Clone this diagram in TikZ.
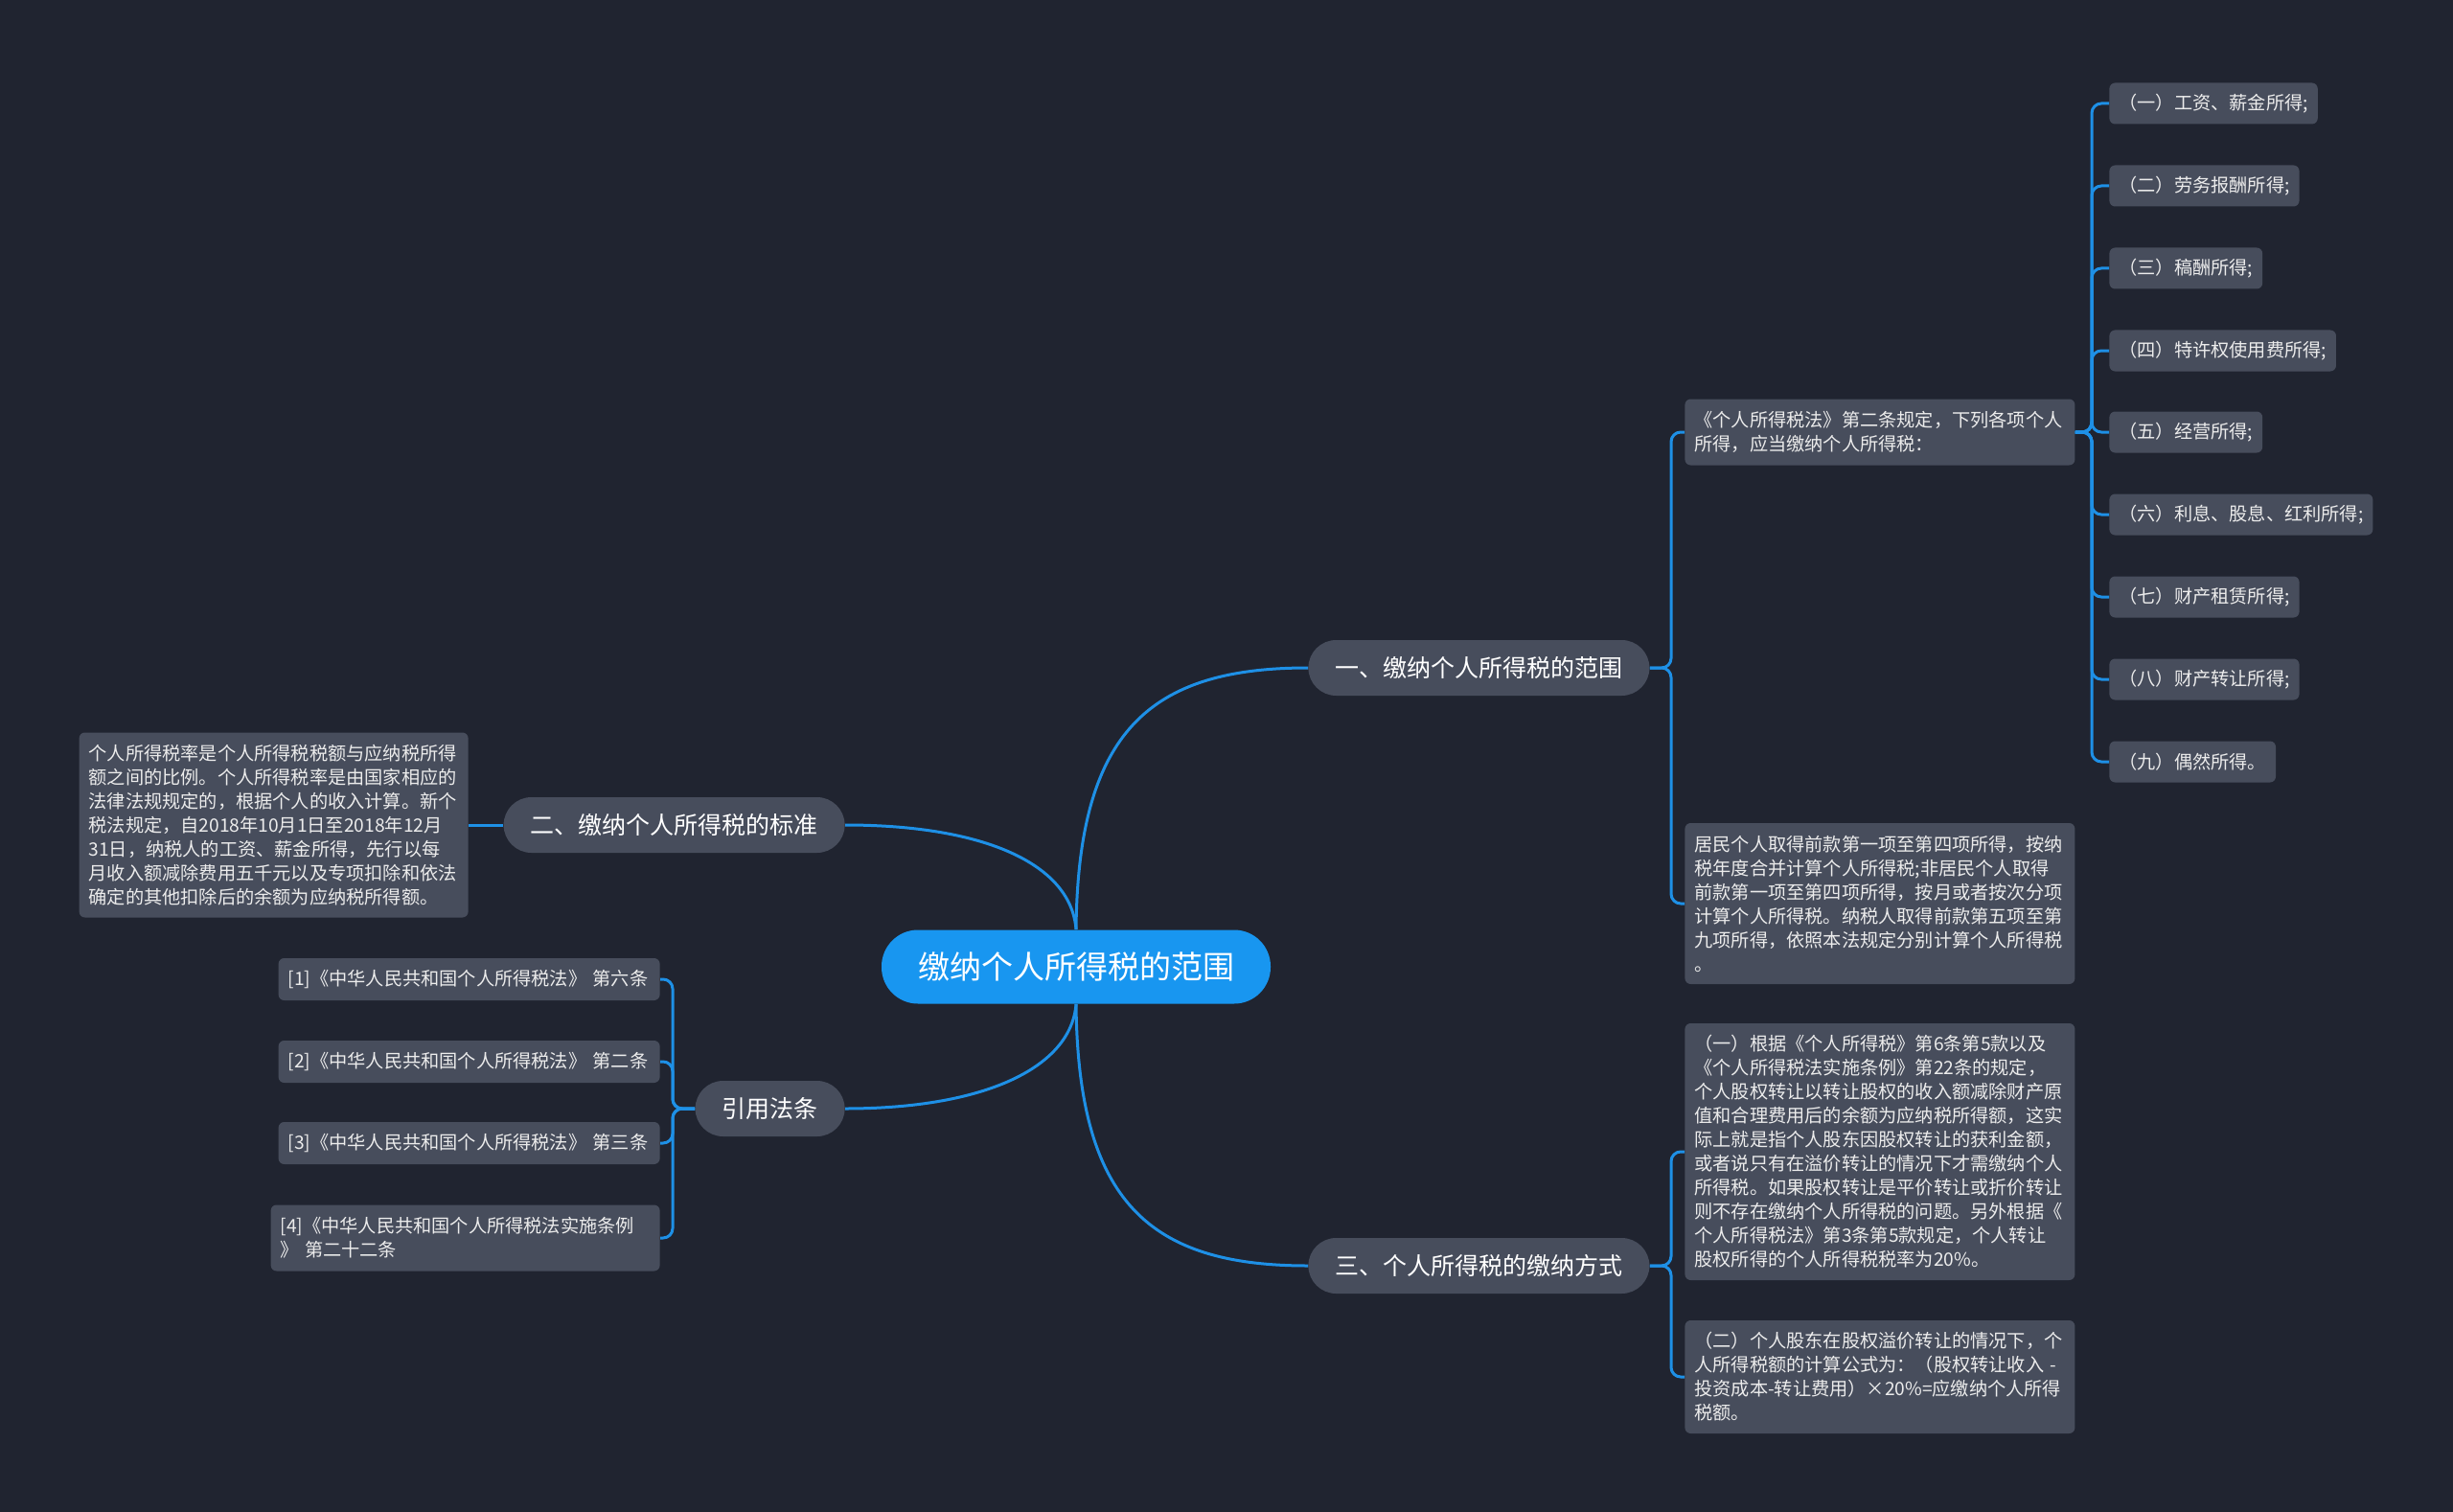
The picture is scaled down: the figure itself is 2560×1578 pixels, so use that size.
\documentclass[tikz,border=0pt]{standalone}
\usepackage{fontspec}
\setmainfont{Noto Sans CJK SC}
\definecolor{bg}{RGB}{32,36,48}
\definecolor{boxgray}{RGB}{71,77,92}
\definecolor{lineblue}{RGB}{30,144,230}
\definecolor{centerblue}{RGB}{24,150,240}
\definecolor{txt}{RGB}{236,236,236}
\tikzset{
  conn/.style={draw=lineblue, line width=1.5pt},
  bracket/.style={conn, rounded corners=5pt},
  box/.style={fill=boxgray, rounded corners=3pt, text=txt, font=\fontsize{9.6pt}{12.5pt}\selectfont, inner xsep=5pt, inner ysep=0pt, align=left},
  leaf/.style={box, minimum height=21.5pt},
  branch/.style={fill=boxgray, rounded corners=14.5pt, minimum height=29pt, inner xsep=14pt, inner ysep=0pt, text=white, font=\fontsize{12.5pt}{15pt}\selectfont},
  root/.style={fill=centerblue, rounded corners=19pt, minimum height=38.5pt, inner xsep=19pt, inner ysep=0pt, text=white, font=\fontsize{16.5pt}{19pt}\selectfont}
}
\begin{document}
\begin{tikzpicture}[x=0.5pt,y=-0.5pt]
\useasboundingbox (0,0) rectangle (2560,1578);
\fill[bg] (0,0) rectangle (2560,1578);

% root and branches
\node[root] (root) at (1123,1009) {缴纳个人所得税的范围};
\node[branch, anchor=west] (b1) at (1365,697) {一、缴纳个人所得税的范围};
\node[branch, anchor=west] (b3) at (1365,1321) {三、个人所得税的缴纳方式};
\node[branch, anchor=east] (b2) at (882,861) {二、缴纳个人所得税的标准};
\node[branch, anchor=east] (b4) at (882,1157) {引用法条};

% branch 1 children
\node[box, anchor=west, text width=193.5pt, minimum height=34.5pt] (cA) at (1758,451)
  {《个人所得税法》第二条规定，下列各项个人\\所得，应当缴纳个人所得税：};
\node[box, anchor=west, text width=193.5pt, minimum height=84pt] (cB) at (1758,943)
  {居民个人取得前款第一项至第四项所得，按纳\\税年度合并计算个人所得税;非居民个人取得\\前款第一项至第四项所得，按月或者按次分项\\计算个人所得税。纳税人取得前款第五项至第\\九项所得，依照本法规定分别计算个人所得税\\。};

% grandchildren
\node[leaf, anchor=west] (g1) at (2201,108) {（一）工资、薪金所得;};
\node[leaf, anchor=west] (g2) at (2201,194) {（二）劳务报酬所得;};
\node[leaf, anchor=west] (g3) at (2201,280) {（三）稿酬所得;};
\node[leaf, anchor=west] (g4) at (2201,366) {（四）特许权使用费所得;};
\node[leaf, anchor=west] (g5) at (2201,451) {（五）经营所得;};
\node[leaf, anchor=west] (g6) at (2201,537) {（六）利息、股息、红利所得;};
\node[leaf, anchor=west] (g7) at (2201,623) {（七）财产租赁所得;};
\node[leaf, anchor=west] (g8) at (2201,709) {（八）财产转让所得;};
\node[leaf, anchor=west] (g9) at (2201,795) {（九）偶然所得。};

% branch 3 children
\node[box, anchor=west, text width=193.5pt, minimum height=134pt] (cC) at (1758,1202)
  {（一）根据《个人所得税》第6条第5款以及\\《个人所得税法实施条例》第22条的规定，\\个人股权转让以转让股权的收入额减除财产原\\值和合理费用后的余额为应纳税所得额，这实\\际上就是指个人股东因股权转让的获利金额，\\或者说只有在溢价转让的情况下才需缴纳个人\\所得税。如果股权转让是平价转让或折价转让\\则不存在缴纳个人所得税的问题。另外根据《\\个人所得税法》第3条第5款规定，个人转让\\股权所得的个人所得税税率为20\%。};
\node[box, anchor=west, text width=193.5pt, minimum height=59pt] (cD) at (1758,1437)
  {（二）个人股东在股权溢价转让的情况下，个\\人所得税额的计算公式为：（股权转让收入 -\\投资成本-转让费用）×20\%=应缴纳个人所得\\税额。};

% branch 2 child
\node[box, anchor=east, text width=193pt, minimum height=96.5pt] (L) at (489,861)
  {个人所得税率是个人所得税税额与应纳税所得\\额之间的比例。个人所得税率是由国家相应的\\法律法规规定的，根据个人的收入计算。新个\\税法规定，自2018年10月1日至2018年12月\\31日，纳税人的工资、薪金所得，先行以每\\月收入额减除费用五千元以及专项扣除和依法\\确定的其他扣除后的余额为应纳税所得额。};

% branch 4 children
\node[box, anchor=east, text width=189pt, minimum height=22pt] (r1) at (689,1022) {[1]《中华人民共和国个人所得税法》 第六条};
\node[box, anchor=east, text width=189pt, minimum height=22pt] (r2) at (689,1108) {[2]《中华人民共和国个人所得税法》 第二条};
\node[box, anchor=east, text width=189pt, minimum height=22pt] (r3) at (689,1193) {[3]《中华人民共和国个人所得税法》 第三条};
\node[box, anchor=east, text width=193pt, minimum height=34.5pt] (r4) at (689,1292) {[4]《中华人民共和国个人所得税法实施条例\\》 第二十二条};

% root curves
\draw[conn] (root.north) .. controls (1125,763) and (1200,697) .. (b1.west);
\draw[conn] (root.south) .. controls (1125,1255) and (1200,1321) .. (b3.west);
\draw[conn] (root.north) .. controls (1118,903) and (1030,861) .. (b2.east);
\draw[conn] (root.south) .. controls (1118,1113) and (1030,1157) .. (b4.east);

% brackets
\coordinate (j1) at (1744,697);
\draw[bracket] (b1.east) -- (j1) |- (cA.west);
\draw[bracket] (b1.east) -- (j1) |- (cB.west);
\coordinate (j3) at (1744,1321);
\draw[bracket] (b3.east) -- (j3) |- (cC.west);
\draw[bracket] (b3.east) -- (j3) |- (cD.west);
\coordinate (jA) at (2183,451);
\foreach \g in {g1,g2,g3,g4,g5,g6,g7,g8,g9}
  \draw[bracket] (cA.east) -- (jA) |- (\g.west);
\draw[conn] (b2.west) -- (L.east);
\coordinate (j4) at (702,1157);
\foreach \r in {r1,r2,r3,r4}
  \draw[bracket] (b4.west) -- (j4) |- (\r.east);
\end{tikzpicture}
\end{document}
